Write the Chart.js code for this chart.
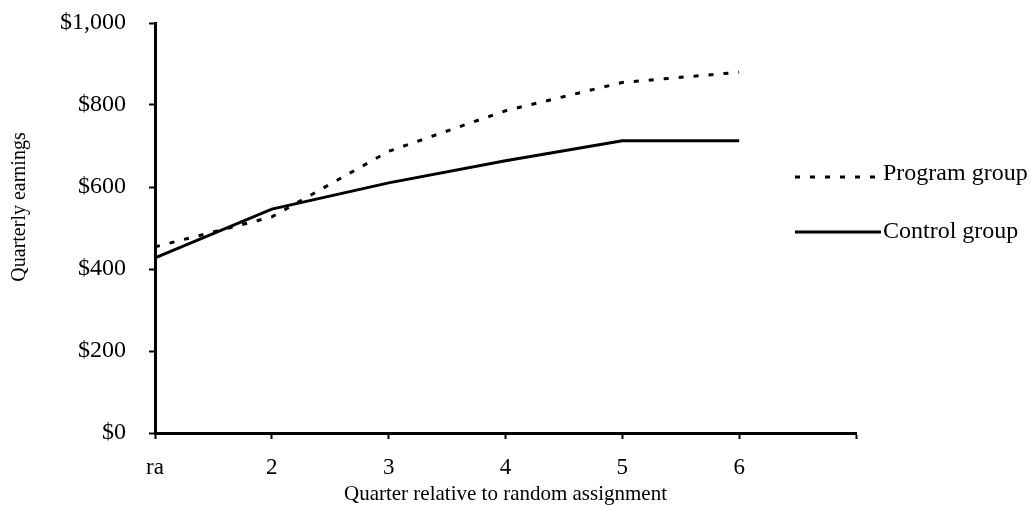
<!DOCTYPE html>
<html>
<head>
<meta charset="utf-8">
<title>Quarterly earnings</title>
<script src="https://cdn.jsdelivr.net/npm/chart.js@4/dist/chart.umd.min.js"></script>
<style>
  html, body { margin: 0; padding: 0; background: #fff; }
  #wrap { width: 1031px; height: 507px; position: relative; }
</style>
</head>
<body>
<div id="wrap"><canvas id="earningsChart"></canvas></div>
<script>
// Chart data
const quarters = ['ra', '2', '3', '4', '5', '6', ''];
const programGroup = [454, 527, 687, 786, 855, 880];
const controlGroup = [427, 546, 610, 664, 713, 713];
const yTickLabels = ['$0', '$200', '$400', '$600', '$800', '$1,000'];

const FONT = "'Liberation Serif', 'Times New Roman', serif";

// Legend + rotated y title, drawn by hand to sit where the original has them
const sideLegend = {
  id: 'sideLegend',
  afterDraw(chart) {
    const ctx = chart.ctx;
    const rows = [{ line: 177, text: 180 }, { line: 232, text: 238 }];
    ctx.save();
    ctx.fillStyle = '#000';
    ctx.font = `24px ${FONT}`;
    ctx.textBaseline = 'alphabetic';

    chart.data.datasets.forEach((ds, i) => {
      const row = rows[i];
      ctx.beginPath();
      ctx.strokeStyle = ds.borderColor;
      ctx.lineWidth = ds.borderWidth;
      ctx.setLineDash(ds.borderDash || []);
      ctx.moveTo(795, row.line);
      ctx.lineTo(881, row.line);
      ctx.stroke();
      ctx.setLineDash([]);
      ctx.textAlign = 'left';
      ctx.fillText(ds.label, 883, row.text);
    });

    // y axis title
    ctx.font = `20px ${FONT}`;
    ctx.textBaseline = 'middle';
    ctx.translate(20, 207);
    ctx.rotate(-Math.PI / 2);
    ctx.textAlign = 'center';
    ctx.fillText('Quarterly earnings', 0, 0);
    ctx.restore();
  }
};

const ctx = document.getElementById('earningsChart').getContext('2d');

new Chart(ctx, {
  type: 'line',
  data: {
    labels: quarters,
    datasets: [
      {
        label: 'Program group',
        data: programGroup,
        borderColor: '#000',
        borderWidth: 3,
        borderDash: [5, 10],
        pointRadius: 0,
        tension: 0,
        fill: false
      },
      {
        label: 'Control group',
        data: controlGroup,
        borderColor: '#000',
        borderWidth: 3,
        pointRadius: 0,
        tension: 0,
        fill: false
      }
    ]
  },
  options: {
    responsive: true,
    maintainAspectRatio: false,
    animation: false,
    layout: {
      padding: { left: 0, right: 175, top: 23, bottom: 0 }
    },
    plugins: {
      legend: { display: false },
      tooltip: { enabled: false }
    },
    scales: {
      x: {
        offset: false,
        grid: {
          drawOnChartArea: false,
          drawTicks: true,
          tickLength: 6,
          tickWidth: 2,
          color: '#000'
        },
        border: { color: '#000', width: 3 },
        ticks: {
          color: '#000',
          font: { family: FONT, size: 23 },
          padding: 15,
          maxRotation: 0,
          autoSkip: false
        },
        title: {
          display: true,
          text: 'Quarter relative to random assignment',
          color: '#000',
          font: { family: FONT, size: 21 },
          padding: { top: 0, bottom: 0 }
        },
        afterFit: (scale) => {
          scale.height = 74;
          scale.paddingLeft = 0;
          scale.paddingRight = 0;
        }
      },
      y: {
        min: 0,
        max: 1000,
        grid: {
          drawOnChartArea: false,
          drawTicks: true,
          tickLength: 6,
          tickWidth: 2,
          color: '#000'
        },
        border: { color: '#000', width: 3 },
        ticks: {
          stepSize: 200,
          color: '#000',
          font: { family: FONT, size: 24 },
          padding: 23,
          callback: (value, i) => yTickLabels[i]
        },
        afterFit: (scale) => {
          scale.width = 155;
          scale.paddingTop = 0;
          scale.paddingBottom = 0;
        }
      }
    }
  },
  plugins: [sideLegend]
});
</script>
</body>
</html>
